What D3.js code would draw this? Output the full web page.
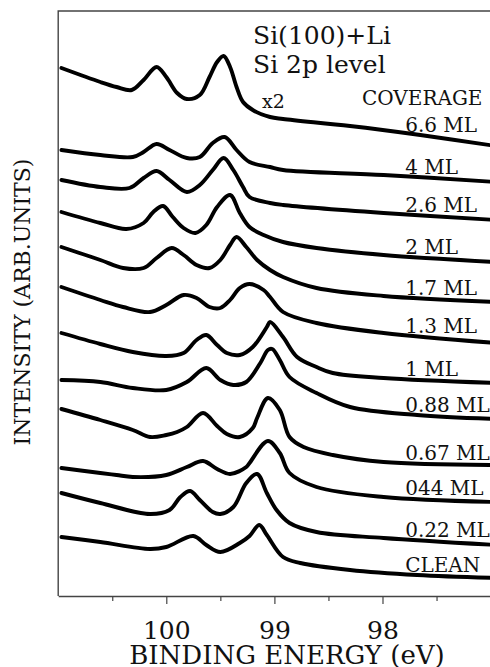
<!DOCTYPE html>
<html>
<head>
<meta charset="utf-8">
<script src="https://cdn.jsdelivr.net/npm/d3@7"></script>
<style>
  html, body { margin: 0; padding: 0; background: #fff; }
  svg { display: block; }
  text { font-family: "DejaVu Serif", serif; fill: #111; }
</style>
</head>
<body>
<div id="chart"></div>
<script>
// Si 2p core level spectra of Si(100)+Li, stacked by Li coverage.
// Each point: [binding energy (eV), intensity (arb. units, stacking offset included)]
const spec66 = [[100.97, 528], [100.61, 514], [100.46, 509], [100.32, 506], [100.21, 516], [100.09, 529], [100.00, 519], [99.90, 503], [99.81, 497], [99.69, 501], [99.60, 519], [99.53, 534], [99.47, 540], [99.41, 529], [99.35, 509], [99.29, 494], [99.20, 486], [99.04, 479], [98.92, 477], [98.30, 470], [97.65, 461], [96.95, 450]];
const spec40 = [[100.97, 446], [100.61, 441], [100.31, 439], [100.21, 444], [100.09, 452], [99.97, 446], [99.81, 438], [99.69, 439], [99.57, 453], [99.46, 459], [99.35, 446], [99.23, 434], [99.04, 429], [98.92, 426], [97.99, 421], [96.95, 414]];
const spec26 = [[100.97, 416], [100.61, 409], [100.34, 408], [100.21, 418], [100.09, 425], [99.97, 416], [99.81, 404], [99.69, 411], [99.57, 426], [99.47, 438], [99.38, 426], [99.29, 409], [99.23, 399], [99.04, 393], [98.92, 391], [97.99, 383], [96.95, 376]];
const spec20 = [[100.97, 384], [100.61, 373], [100.37, 367], [100.21, 373], [100.12, 384], [100.03, 390], [99.94, 379], [99.84, 368], [99.73, 363], [99.63, 371], [99.53, 389], [99.41, 401], [99.32, 383], [99.23, 369], [99.10, 361], [98.92, 354], [98.61, 348], [97.99, 341], [96.95, 334]];
const spec17 = [[100.97, 349], [100.61, 336], [100.40, 328], [100.21, 328], [100.09, 338], [99.95, 348], [99.84, 341], [99.72, 331], [99.60, 328], [99.50, 336], [99.41, 351], [99.35, 359], [99.26, 349], [99.16, 336], [99.04, 326], [98.92, 319], [98.61, 308], [97.99, 300], [96.95, 294]];
const spec13 = [[100.97, 309], [100.61, 296], [100.40, 289], [100.15, 284], [100.00, 291], [99.84, 301], [99.72, 298], [99.60, 289], [99.50, 288], [99.41, 296], [99.32, 308], [99.23, 312], [99.10, 306], [99.04, 299], [98.92, 284], [98.61, 273], [97.99, 263], [96.95, 253]];
const spec10 = [[100.97, 263], [100.61, 252], [100.31, 244], [100.00, 240], [99.84, 243], [99.72, 256], [99.63, 261], [99.53, 251], [99.44, 243], [99.32, 241], [99.20, 249], [99.07, 269], [99.04, 274], [98.92, 259], [98.79, 239], [98.61, 229], [98.46, 223], [97.99, 218], [96.95, 213]];
const spec088 = [[100.97, 216], [100.61, 214], [100.31, 208], [100.00, 206], [99.81, 214], [99.63, 228], [99.50, 216], [99.38, 211], [99.26, 214], [99.13, 233], [99.06, 246], [99.02, 247], [98.95, 236], [98.86, 219], [98.61, 203], [98.30, 189], [97.68, 181], [96.95, 177]];
const spec067 = [[100.97, 187], [100.61, 176], [100.31, 166], [100.15, 159], [100.00, 161], [99.90, 164], [99.81, 169], [99.66, 183], [99.53, 170], [99.44, 162], [99.32, 159], [99.20, 168], [99.16, 178], [99.06, 198], [98.95, 186], [98.86, 159], [98.73, 149], [98.46, 141], [97.99, 134], [96.95, 131]];
const spec044 = [[100.97, 128], [100.61, 123], [100.46, 121], [100.31, 119], [100.00, 121], [99.81, 129], [99.66, 135], [99.53, 127], [99.41, 122], [99.26, 129], [99.23, 133], [99.06, 155], [98.95, 143], [98.86, 123], [98.61, 109], [97.99, 99], [96.95, 94]];
const spec022 = [[100.97, 103], [100.61, 93], [100.15, 82], [99.97, 86], [99.87, 99], [99.78, 105], [99.69, 96], [99.57, 84], [99.50, 82], [99.38, 89], [99.26, 113], [99.16, 122], [99.07, 103], [98.98, 86], [98.86, 73], [98.61, 64], [97.99, 58], [96.95, 51]];
const specClean = [[100.97, 59], [100.61, 54], [100.15, 47], [100.00, 49], [99.75, 60], [99.63, 51], [99.50, 44], [99.32, 53], [99.23, 60], [99.14, 71], [99.07, 61], [98.92, 39], [98.76, 33], [98.30, 26], [97.68, 21], [96.95, 18]];

const spectra = [spec66, spec40, spec26, spec20, spec17, spec13, spec10, spec088, spec067, spec044, spec022, specClean];
const coverageLabels = ['6.6 ML', '4 ML', '2.6 ML', '2 ML', '1.7 ML', '1.3 ML', '1 ML', '0.88 ML', '0.67 ML', '044 ML', '0.22 ML', 'CLEAN'];

const majorTicks = [100, 99, 98];
const minorTicks = [100.5, 99.5, 98.5, 97.5];

const W = 490, H = 667;
const plot = { left: 58.2, right: 501.4, top: 11, bottom: 596 };

const svg = d3.select('#chart')
	.append('svg')
	.attr('width', W)
	.attr('height', H);

// Binding energy runs right to left, as usual for XPS
const x = d3.scaleLinear().domain([101, 96.9]).range([plot.left, plot.right]);
const y = d3.scaleLinear().domain([0, 585]).range([plot.bottom, plot.top]);

// linear read of a spectrum at a given energy (used to sit labels on the curves)
const valueAt = (pts, e) => {
	for (let i = 1; i < pts.length; i++) {
		const [e0, v0] = pts[i - 1];
		const [e1, v1] = pts[i];
		if (e <= e0 && e >= e1) return v0 + ((v1 - v0) * (e0 - e)) / (e0 - e1);
	}
	return pts[pts.length - 1][1];
};

// Frame: left and top borders (right side runs off the page)
svg.append('path')
	.attr('d', `M${plot.left},${plot.bottom}V${plot.top}H${W + 20}`)
	.attr('fill', 'none')
	.attr('stroke', '#444')
	.attr('stroke-width', 1.4);

// Bottom axis, major ticks with labels
const xAxis = svg.append('g')
	.attr('transform', `translate(0,${plot.bottom})`)
	.call(d3.axisBottom(x).tickValues(majorTicks).tickSize(8).tickSizeOuter(0).tickFormat(d3.format('d')));
xAxis.select('.domain').attr('stroke', '#444').attr('stroke-width', 1.4);
xAxis.selectAll('.tick line').attr('stroke', '#444').attr('stroke-width', 1.2);
xAxis.selectAll('text')
	.attr('y', 43)
	.attr('dy', null)
	.style('font-family', '"DejaVu Serif", serif')
	.style('font-size', '25px')
	.attr('fill', '#111');

// minor ticks
const xMinor = svg.append('g')
	.attr('transform', `translate(0,${plot.bottom})`)
	.call(d3.axisBottom(x).tickValues(minorTicks).tickSize(5).tickFormat(''));
xMinor.select('.domain').remove();
xMinor.selectAll('.tick line').attr('stroke', '#444').attr('stroke-width', 1.2);

svg.append('text')
	.attr('x', 287)
	.attr('y', 664)
	.attr('text-anchor', 'middle')
	.style('font-size', '26px')
	.text('BINDING ENERGY (eV)');

svg.append('text')
	.attr('transform', 'translate(30,302) rotate(-90)')
	.attr('text-anchor', 'middle')
	.style('font-size', '22px')
	.text('INTENSITY (ARB.UNITS)');

// Spectra
svg.append('defs').append('clipPath').attr('id', 'plot-clip')
	.append('rect')
	.attr('x', plot.left)
	.attr('y', plot.top)
	.attr('width', plot.right - plot.left)
	.attr('height', plot.bottom - plot.top);

const line = d3.line()
	.x((d) => x(d[0]))
	.y((d) => y(d[1]))
	.curve(d3.curveCatmullRom.alpha(0.5));

svg.append('g')
	.attr('clip-path', 'url(#plot-clip)')
	.selectAll('path')
	.data(spectra)
	.join('path')
	.attr('d', line)
	.attr('fill', 'none')
	.attr('stroke', '#000')
	.attr('stroke-width', 3.9)
	.attr('stroke-linejoin', 'round')
	.attr('stroke-linecap', 'round');

// Coverage labels, resting on their curves
const labelX = x(97.79);
svg.append('g')
	.selectAll('text')
	.data(spectra)
	.join('text')
	.attr('x', labelX)
	.attr('y', (d) => y(valueAt(d, 97.6)) - 3.5)
	.style('font-size', '20px')
	.text((d, i) => coverageLabels[i]);

// Annotations
svg.append('text').attr('x', 253).attr('y', 44).style('font-size', '25px').text('Si(100)+Li');
svg.append('text').attr('x', 253).attr('y', 73).style('font-size', '25px').text('Si 2p level');
svg.append('text').attr('x', 262).attr('y', 108).style('font-size', '19px').text('x2');
svg.append('text').attr('x', 362).attr('y', 105).style('font-size', '20px').text('COVERAGE');
</script>
</body>
</html>
